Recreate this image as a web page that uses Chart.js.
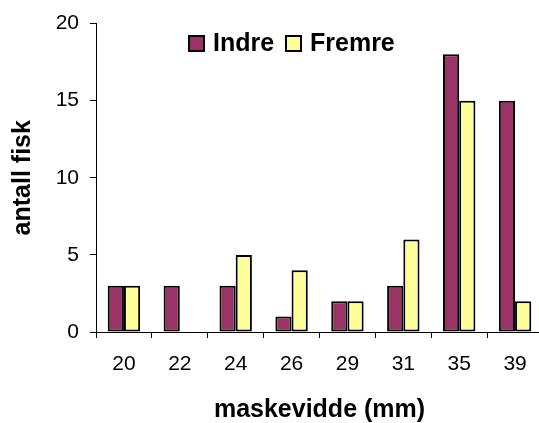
<!DOCTYPE html>
<html>
<head>
<meta charset="utf-8">
<script src="https://cdn.jsdelivr.net/npm/chart.js@4"></script>
<style>
  html, body { margin: 0; padding: 0; background: #fff; overflow: hidden; }
  #wrap { width: 543px; height: 423px; }
</style>
</head>
<body>
<div id="wrap"><canvas id="fiskChart" width="543" height="423"></canvas></div>
<script>
const maskevidde = ['20', '22', '24', '26', '29', '31', '35', '39'];
const indre = [3, 3, 3, 1, 2, 3, 18, 15];
const fremre = [3, 0, 5, 4, 2, 6, 15, 2];
const yTicks = [0, 5, 10, 15, 20];

const FONT = '"Liberation Sans", Arial, sans-serif';

// legend drawn inside the plot, like the original
const legendInside = {
    id: 'legendInside',
    afterDraw(chart) {
        const c = chart.ctx;
        const pos = [[189, 213], [286, 310]];
        c.save();
        c.font = 'bold 25px ' + FONT;
        c.textBaseline = 'alphabetic';
        chart.data.datasets.forEach((ds, i) => {
            c.fillStyle = ds.backgroundColor;
            c.fillRect(pos[i][0], 36, 15, 15);
            c.lineWidth = 2;
            c.strokeStyle = '#000';
            c.strokeRect(pos[i][0], 36, 15, 15);
            c.fillStyle = '#000';
            c.fillText(ds.label, pos[i][1], 51);
        });
        c.restore();
    }
};

const ctx = document.getElementById('fiskChart').getContext('2d');
const chart = new Chart(ctx, {
    type: 'bar',
    data: {
        labels: maskevidde,
        datasets: [{
            label: 'Indre',
            data: indre,
            backgroundColor: '#993366',
            borderColor: '#000',
            borderWidth: 2,
            borderSkipped: false
        }, {
            label: 'Fremre',
            data: fremre,
            backgroundColor: '#FFFF99',
            borderColor: '#000',
            borderWidth: 2,
            borderSkipped: false
        }]
    },
    options: {
        responsive: false,
        animation: false,
        layout: { padding: { top: 23.5, right: 0, bottom: 0, left: 0 } },
        datasets: { bar: { categoryPercentage: 0.58, barPercentage: 1 } },
        plugins: { legend: { display: false }, tooltip: { enabled: false } },
        scales: {
            x: {
                grid: { drawOnChartArea: false, drawTicks: true, tickLength: 6, color: '#000' },
                border: { display: true, color: '#000', width: 1 },
                ticks: { color: '#000', padding: 16, font: { family: FONT, size: 21, lineHeight: 1 } },
                title: { display: true, text: 'maskevidde (mm)', color: '#000',
                         font: { family: FONT, size: 25, weight: 'bold', lineHeight: 1 },
                         padding: { top: 0, bottom: 0 } },
                afterFit(scale) { scale.height = 91; }
            },
            y: {
                min: 0, max: 20,
                afterBuildTicks(scale) { scale.ticks = yTicks.map(v => ({ value: v })); },
                grid: { drawOnChartArea: false, drawTicks: true, tickLength: 6, color: '#000' },
                border: { display: true, color: '#000', width: 1 },
                ticks: { color: '#000', padding: 11, font: { family: FONT, size: 21, lineHeight: 1 } },
                title: { display: true, text: 'antall fisk', color: '#000',
                         font: { family: FONT, size: 25, weight: 'bold', lineHeight: 1 },
                         padding: { top: 11, bottom: 0 } },
                afterFit(scale) { scale.width = 96; }
            }
        }
    },
    plugins: [legendInside]
});
</script>
</body>
</html>
